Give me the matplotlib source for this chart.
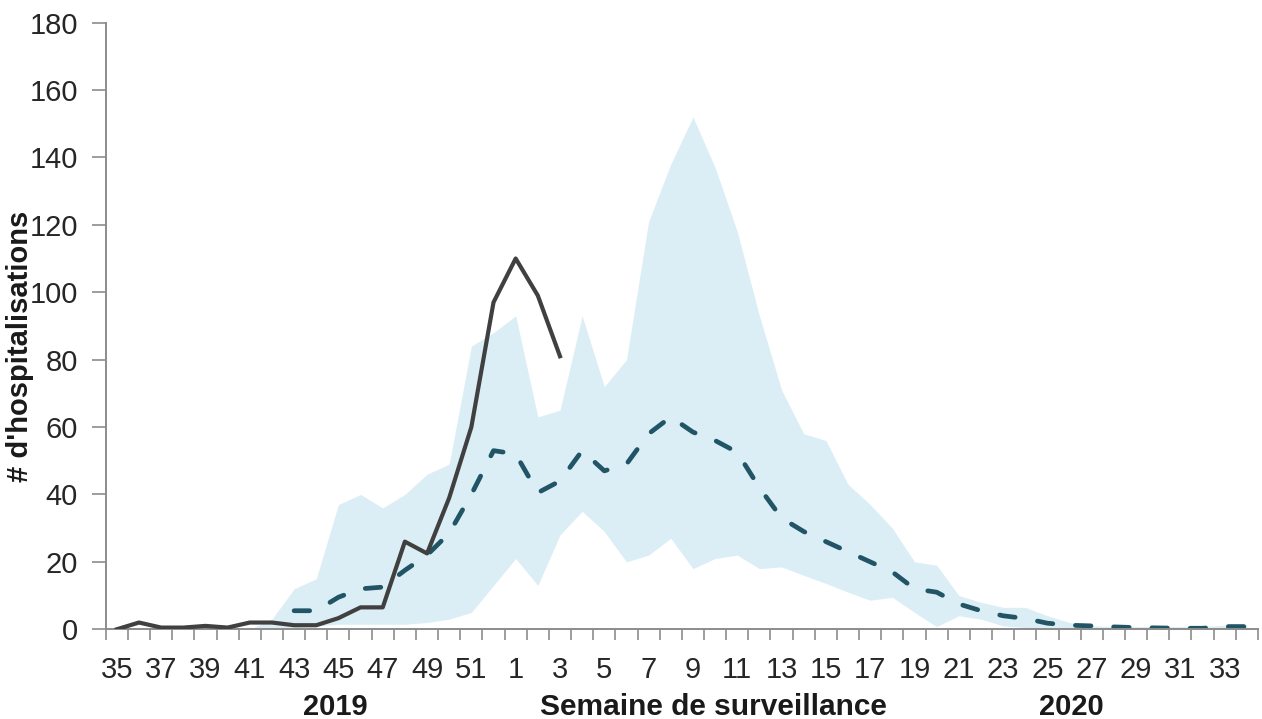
import numpy as np
import matplotlib.pyplot as plt

# Weeks of the surveillance season (2019 wk 35 -> 2020 wk 34)
weeks = [35, 36, 37, 38, 39, 40, 41, 42, 43, 44, 45, 46, 47, 48, 49, 50, 51, 52,
         1, 2, 3, 4, 5, 6, 7, 8, 9, 10, 11, 12, 13, 14, 15, 16, 17, 18, 19, 20,
         21, 22, 23, 24, 25, 26, 27, 28, 29, 30, 31, 32, 33, 34]

# current season, weeks 35 .. 3
current = [0, 2, 0.5, 0.5, 1, 0.5, 2, 2, 1.2, 1.2, 3.3, 6.5, 6.5, 26, 22.5,
           39, 60, 97, 110, 99, 81]

# mean of previous seasons, weeks 43 .. 34
mean_prev = [5.5, 5.5, 9.5, 12, 12.5, 17.5, 22, 28.5, 40, 53, 52, 40.5, 44, 53,
             47, 49, 58, 63, 58.5, 56, 52.5, 42, 33, 29, 26, 23, 20, 17, 12, 11,
             7.5, 5.5, 4, 3.2, 1.8, 1.2, 1, 0.7, 0.5, 0.4, 0.3, 0.3, 0.8, 0.8]

# min / max of previous seasons, weeks 41 .. 34
band_low = [0, 0, 0.5, 1, 1.5, 1.5, 1.5, 1.5, 2, 3, 5, 13, 21, 13, 28, 35, 29,
            20, 22, 27, 18, 21, 22, 18, 18.5, 16, 13.6, 11, 8.6, 9.5, 5, 0.8,
            4, 3, 1, 0.5, 0, 0, 0, 0, 0, 0, 0, 0, 0, 0]
band_high = [0, 3, 12, 15, 37, 40, 36, 40, 46, 49, 84, 88, 93, 63, 65, 93, 72,
             80, 121, 138, 152, 137, 118, 93, 71, 58, 56, 43, 37, 30, 20, 19,
             10, 8, 6.5, 6.5, 4, 2, 1, 0.8, 0.8, 0.8, 0.8, 0.8, 1.2, 1.2]

x_all = np.arange(len(weeks))
x_cur = x_all[:len(current)]
x_mean = x_all[weeks.index(43):]
x_band = x_all[weeks.index(41):]

plt.rcParams['font.family'] = ['Liberation Sans', 'DejaVu Sans']

fig = plt.figure(figsize=(12.62, 7.19), dpi=100)
ax = fig.add_axes([0.0838, 0.1248, 0.913, 0.8438])

ax.fill_between(x_band, band_low, band_high, color="#dbeef5", lw=0, zorder=1)
ax.plot(x_mean, mean_prev, color="#215464", lw=3.4, dashes=(3.3, 4.8),
        dash_capstyle="round", zorder=2)
ax.plot(x_cur, current, color="#404040", lw=3.0, solid_joinstyle="round",
        zorder=3)

ax.set_xlim(-0.5, len(weeks) - 0.5)
ax.set_ylim(0, 180)
ax.set_yticks(range(0, 181, 20))

# tick marks between categories, labels on every other category
ax.set_xticks(np.arange(-0.5, len(weeks), 1.0))
ax.set_xticklabels([])
ax.set_xticks(x_all[::2], minor=True)
ax.set_xticklabels([str(w) for w in weeks[::2]], minor=True)
ax.tick_params(axis="x", which="major", length=8, width=1.2, color="#8c8c8c",
               direction="out")
ax.tick_params(axis="x", which="minor", length=0, pad=19, labelsize=21,
               labelcolor="#262626")
ax.tick_params(axis="y", length=10, width=1.2, color="#8c8c8c", pad=10,
               labelsize=21, labelcolor="#262626")

for side in ["top", "right"]:
    ax.spines[side].set_visible(False)
for side in ["left", "bottom"]:
    ax.spines[side].set_color("#8c8c8c")
    ax.spines[side].set_linewidth(1.4)

fig.text(20 / 1262, 1 - 346 / 719, "# d'hospitalisations", rotation=90,
         ha="center", va="center", fontsize=21, fontweight="bold",
         color="#1a1a1a")
fig.text(335 / 1262, 1 - 707 / 719, "2019", ha="center", va="center",
         fontsize=21, fontweight="bold", color="#1a1a1a")
fig.text(713 / 1262, 1 - 707 / 719, "Semaine de surveillance", ha="center",
         va="center", fontsize=21.5, fontweight="bold", color="#1a1a1a")
fig.text(1071 / 1262, 1 - 707 / 719, "2020", ha="center", va="center",
         fontsize=21, fontweight="bold", color="#1a1a1a")

fig.savefig("out.png", dpi=100)
